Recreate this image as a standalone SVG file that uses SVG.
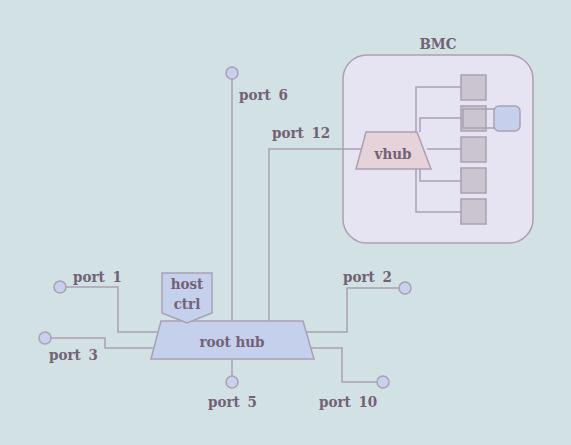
<svg xmlns="http://www.w3.org/2000/svg" width="571" height="445" viewBox="0 0 571 445">
<style>
.ln{fill:none;stroke:#aaa0b2;stroke-width:1.5}
.pt{fill:#c8d0ee;stroke:#aaa0b2;stroke-width:1.5}
.sq{fill:#cbc5d0;stroke:#aaa0b2;stroke-width:1.5}
.t{font-family:"DejaVu Serif Condensed","DejaVu Serif","Liberation Serif",serif;font-size:15px;font-weight:bold;fill:#736275}
.c{text-anchor:middle}
</style>
<rect width="571" height="445" fill="#d2e1e3"/>
<g id="bmc">
<rect x="343" y="55" width="190" height="188" rx="24" fill="#e6e4f3" stroke="#aaa0b2" stroke-width="1.5"/>
<text class="t c" x="438" y="49">BMC</text>
</g>
<g id="connectors">
<polyline class="ln" points="60,287 118,287 118,332 158,332"/>
<polyline class="ln" points="45,338 105,338 105,348 155,348"/>
<polyline class="ln" points="306,332 347,332 347,288 405,288"/>
<polyline class="ln" points="311,348 342,348 342,382 383,382"/>
<line class="ln" x1="232" y1="73" x2="232" y2="321"/>
<line class="ln" x1="232" y1="359" x2="232" y2="382"/>
<polyline class="ln" points="269,321 269,149 362,149"/>
<polyline class="ln" points="416,132 416,87 461,87"/>
<polyline class="ln" points="420,132 420,118 461,118"/>
<line class="ln" x1="427" y1="149" x2="461" y2="149"/>
<polyline class="ln" points="420,169 420,181 461,181"/>
<polyline class="ln" points="416,169 416,212 461,212"/>
</g>
<g id="sq1"><rect class="sq" x="461" y="75" width="25" height="25"/></g>
<g id="sq2"><rect class="sq" x="461" y="106" width="25" height="25"/><polyline class="ln" points="494,109 463,109 463,128 494,128"/></g>
<g id="sq3"><rect class="sq" x="461" y="137" width="25" height="25"/></g>
<g id="sq4"><rect class="sq" x="461" y="168" width="25" height="25"/></g>
<g id="sq5"><rect class="sq" x="461" y="199" width="25" height="25"/></g>
<g id="dev"><rect x="494" y="106" width="26" height="25" rx="5" fill="#c5d0ec" stroke="#aaa0b2" stroke-width="1.5"/></g>
<g id="vhub">
<polygon points="366,132 417,132 431,169 356,169" fill="#e6d3da" stroke="#aaa0b2" stroke-width="1.5"/>
<text class="t c" x="393" y="159">vhub</text>
</g>
<g id="roothub">
<polygon points="161,321 303,321 314,359 151,359" fill="#c5d0ec" stroke="#aaa0b2" stroke-width="1.5"/>
<text class="t c" x="232" y="347">root hub</text>
</g>
<g id="hostctrl">
<polygon points="162,273 212,273 212,313 187,323 162,313" fill="#c5d0ec" stroke="#aaa0b2" stroke-width="1.5"/>
<text class="t c" x="187" y="289">host</text>
<text class="t c" x="187" y="309">ctrl</text>
</g>
<g id="port1"><circle class="pt" cx="60" cy="287" r="6"/><text class="t" x="73" y="282" word-spacing="3">port 1</text></g>
<g id="port3"><circle class="pt" cx="45" cy="338" r="6"/><text class="t" x="49" y="360" word-spacing="3">port 3</text></g>
<g id="port2"><circle class="pt" cx="405" cy="288" r="6"/><text class="t" x="343" y="282" word-spacing="3">port 2</text></g>
<g id="port10"><circle class="pt" cx="383" cy="382" r="6"/><text class="t" x="319" y="407" word-spacing="3">port 10</text></g>
<g id="port5"><circle class="pt" cx="232" cy="382" r="6"/><text class="t" x="208" y="407" word-spacing="3">port 5</text></g>
<g id="port6"><circle class="pt" cx="232" cy="73" r="6"/><text class="t" x="239" y="100" word-spacing="3">port 6</text></g>
<g id="port12"><text class="t" x="272" y="138" word-spacing="3">port 12</text></g>
</svg>
